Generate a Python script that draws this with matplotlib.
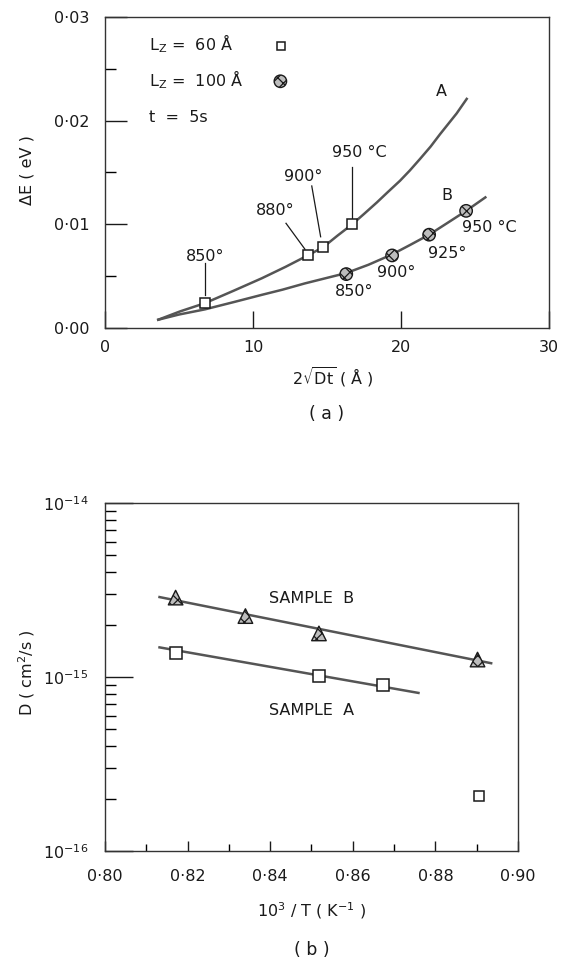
import matplotlib
matplotlib.use('Agg')
import matplotlib.pyplot as plt

plt.rcParams['font.family'] = ['DejaVu Sans']
plt.rcParams['mathtext.default'] = 'regular'
plt.rcParams['hatch.linewidth'] = 0.9

# ---------------- Panel (a) data ----------------
a_sq_x = [6.76, 13.7, 14.75, 16.7]
a_sq_y = [0.0024, 0.0070, 0.0078, 0.0100]
a_sq_lbl = ['850°', '880°', '900°', '950 °C']

a_curve_x = [3.6, 5.07, 6.76, 8.7, 10.6, 12.2, 13.7, 14.75, 15.7, 16.7, 17.5, 18.36, 19.1, 19.93, 20.6,
             21.28, 22.0, 22.64, 23.2, 23.76, 24.44]
a_curve_y = [0.0008, 0.0016, 0.0024, 0.0036, 0.0048, 0.0059, 0.0070, 0.0078, 0.0089, 0.0100, 0.0110,
             0.0121, 0.0131, 0.0142, 0.0152, 0.0163, 0.0175, 0.0187, 0.0197, 0.0207, 0.0221]

b_ci_x = [16.3, 19.4, 21.9, 24.4]
b_ci_y = [0.0052, 0.0070, 0.0090, 0.0113]
b_ci_lbl = ['850°', '900°', '925°', '950 °C']

b_curve_x = [3.6, 5.0, 6.76, 8.7, 10.6, 12.0, 13.5, 14.9, 16.3, 17.8, 19.4, 20.6, 21.9, 23.1, 24.4, 25.7]
b_curve_y = [0.0008, 0.0013, 0.0018, 0.0025, 0.0032, 0.0037, 0.0043, 0.0048, 0.0053, 0.0061, 0.0071,
             0.0080, 0.0090, 0.0101, 0.0113, 0.0126]

a_xticks = [0, 10, 20, 30]
a_xticklabels = ['0', '10', '20', '30']
a_yticks = [0.0, 0.01, 0.02, 0.03]
a_yticklabels = ['0·00', '0·01', '0·02', '0·03']
a_yminor = [0.005, 0.015, 0.025]

# ---------------- Panel (b) data ----------------
sB_x = [0.8171, 0.8340, 0.8518, 0.8902]
sB_y = [2.86e-15, 2.24e-15, 1.78e-15, 1.26e-15]
sB_fit_x = [0.8132, 0.8935]
sB_fit_y = [2.88e-15, 1.20e-15]

sA_x = [0.8171, 0.8518, 0.8673]
sA_y = [1.37e-15, 1.02e-15, 9.0e-16]
sA_fit_x = [0.8132, 0.8759]
sA_fit_y = [1.48e-15, 8.1e-16]

sA_out_x = [0.8906]
sA_out_y = [2.07e-16]

b_xticks = [0.80, 0.82, 0.84, 0.86, 0.88, 0.90]
b_xticklabels = ['0·80', '0·82', '0·84', '0·86', '0·88', '0·90']
b_xminor = [0.81, 0.83, 0.85, 0.87, 0.89]
b_yticks = [1e-16, 1e-15, 1e-14]
b_yticklabels = [r'$10^{-16}$', r'$10^{-15}$', r'$10^{-14}$']

W, H = 568, 965
fig = plt.figure(figsize=(W / 100, H / 100), dpi=100)

def fx(px):
    return px / W

def fy(py):
    return 1 - py / H

LINE_C = '#555555'
EDGE_C = '#1a1a1a'
FS = 11.5

# ---------------- Axes (a) ----------------
ax1 = fig.add_axes([fx(105), fy(328), 444 / W, 311 / H])
ax1.plot(a_curve_x, a_curve_y, color=LINE_C, lw=1.8, zorder=2, solid_joinstyle='round')
ax1.plot(b_curve_x, b_curve_y, color=LINE_C, lw=1.8, zorder=2, solid_joinstyle='round')
ax1.plot(a_sq_x, a_sq_y, linestyle='none', marker='s', ms=6.8, mfc='white', mec=EDGE_C, mew=1.1, zorder=4)
ax1.scatter(b_ci_x, b_ci_y, s=80, marker='o', facecolor='#bdbdbd', edgecolor=EDGE_C, hatch='xxx',
            linewidths=1.0, zorder=4)

ax1.set_xlim(0, 30)
ax1.set_ylim(0, 0.03)
ax1.set_xticks(a_xticks)
ax1.set_xticklabels(a_xticklabels)
ax1.set_yticks(a_yticks)
ax1.set_yticklabels(a_yticklabels)
ax1.set_yticks(a_yminor, minor=True)
ax1.tick_params(axis='x', which='major', direction='in', length=12, width=1.0, pad=9, labelsize=FS, colors=EDGE_C)
ax1.tick_params(axis='y', which='major', direction='in', length=16, width=1.0, pad=11, labelsize=FS, colors=EDGE_C)
ax1.tick_params(axis='y', which='minor', direction='in', length=8, width=1.0)
for sp in ax1.spines.values():
    sp.set_color('#333333')
    sp.set_linewidth(1.0)

# legend-like text
ax1.text(3.0, 0.0274, r'L$_\mathregular{Z}$ =  60 Å', fontsize=FS, va='center', ha='left', color=EDGE_C)
ax1.text(3.0, 0.0240, r'L$_\mathregular{Z}$ =  100 Å', fontsize=FS, va='center', ha='left', color=EDGE_C)
ax1.text(3.0, 0.0203, 't  =  5s', fontsize=FS, va='center', ha='left', color=EDGE_C)
ax1.plot([11.9], [0.0272], linestyle='none', marker='s', ms=6.0, mfc='white', mec=EDGE_C, mew=1.1)
ax1.scatter([11.85], [0.0238], s=80, marker='o', facecolor='#bdbdbd', edgecolor=EDGE_C, hatch='xxx',
            linewidths=1.0)

# temperature labels curve A
a_lbl_pos = [(6.76, 0.0069), (11.5, 0.0113), (13.4, 0.0146), (17.2, 0.0169)]
for (tx, ty), lbl in zip(a_lbl_pos, a_sq_lbl):
    ax1.text(tx, ty, lbl, fontsize=FS, ha='center', va='center', color=EDGE_C)
leaders = [((6.76, 0.0063), (6.76, 0.0032)),
           ((12.23, 0.0101), (13.51, 0.0076)),
           ((13.97, 0.0137), (14.57, 0.0088)),
           ((16.67, 0.0155), (16.67, 0.0106))]
for (x0, y0), (x1, y1) in leaders:
    ax1.plot([x0, x1], [y0, y1], color=EDGE_C, lw=0.9)

# temperature labels curve B
b_lbl_pos = [(16.8, 0.0035), (19.7, 0.0054), (23.1, 0.0072), (26.0, 0.0097)]
for (tx, ty), lbl in zip(b_lbl_pos, b_ci_lbl):
    ax1.text(tx, ty, lbl, fontsize=FS, ha='center', va='center', color=EDGE_C)

ax1.text(22.75, 0.0228, 'A', fontsize=FS, ha='center', va='center', color=EDGE_C)
ax1.text(23.1, 0.0128, 'B', fontsize=FS, ha='center', va='center', color=EDGE_C)

fig.text(fx(27), fy(170), 'ΔE ( eV )', rotation=90, fontsize=FS, ha='center', va='center', color=EDGE_C)
fig.text(fx(333), fy(377), r'2$\sqrt{\mathrm{Dt}}$ ( Å )', fontsize=FS, ha='center', va='center', color=EDGE_C)
fig.text(fx(327), fy(414), '( a )', fontsize=FS + 1, ha='center', va='center', color=EDGE_C)

# ---------------- Axes (b) ----------------
ax2 = fig.add_axes([fx(105), fy(851), 413 / W, 348 / H])
ax2.set_yscale('log')
ax2.plot(sB_fit_x, sB_fit_y, color=LINE_C, lw=1.8, zorder=2)
ax2.plot(sA_fit_x, sA_fit_y, color=LINE_C, lw=1.8, zorder=2)
ax2.scatter(sB_x, sB_y, s=110, marker='^', facecolor='#bdbdbd', edgecolor=EDGE_C, hatch='xxx',
            linewidths=1.0, zorder=4)
ax2.plot(sA_x, sA_y, linestyle='none', marker='s', ms=8, mfc='white', mec=EDGE_C, mew=1.1, zorder=4)
ax2.plot(sA_out_x, sA_out_y, linestyle='none', marker='s', ms=7.5, mfc='white', mec=EDGE_C, mew=1.1, zorder=4)

ax2.set_xlim(0.80, 0.90)
ax2.set_ylim(1e-16, 1e-14)
ax2.set_xticks(b_xticks)
ax2.set_xticklabels(b_xticklabels)
ax2.set_xticks(b_xminor, minor=True)
ax2.set_yticks(b_yticks)
ax2.set_yticklabels(b_yticklabels)
ax2.tick_params(axis='x', which='major', direction='in', length=7, width=1.0, pad=13, labelsize=FS, colors=EDGE_C)
ax2.tick_params(axis='x', which='minor', direction='in', length=5, width=1.0)
ax2.tick_params(axis='y', which='major', direction='in', length=20, width=1.0, pad=12, labelsize=FS, colors=EDGE_C)
ax2.tick_params(axis='y', which='minor', direction='in', length=8, width=1.0, labelleft=False)
for sp in ax2.spines.values():
    sp.set_color('#333333')
    sp.set_linewidth(1.0)

ax2.text(0.850, 2.82e-15, 'SAMPLE  B', fontsize=FS, ha='center', va='center', color=EDGE_C)
ax2.text(0.850, 6.4e-16, 'SAMPLE  A', fontsize=FS, ha='center', va='center', color=EDGE_C)

fig.text(fx(27), fy(673), r'D ( cm$^2$/s )', rotation=90, fontsize=FS, ha='center', va='center', color=EDGE_C)
fig.text(fx(312), fy(911), r'10$^3$ / T ( K$^{-1}$ )', fontsize=FS, ha='center', va='center', color=EDGE_C)
fig.text(fx(312), fy(950), '( b )', fontsize=FS + 1, ha='center', va='center', color=EDGE_C)

fig.savefig('out.png', dpi=100)
